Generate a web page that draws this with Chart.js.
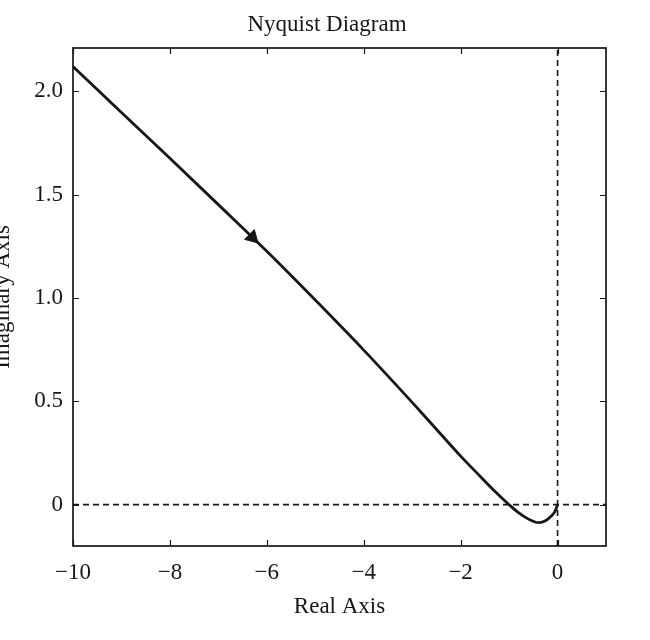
<!DOCTYPE html>
<html>
<head>
<meta charset="utf-8">
<script src="https://cdn.jsdelivr.net/npm/chart.js@4.4.1/dist/chart.umd.min.js"></script>
<style>
  html, body { margin: 0; padding: 0; background: #fff; overflow: hidden; width: 650px; height: 640px; }
  #wrap { position: absolute; left: -11px; top: 0; width: 676px; height: 640px; }
</style>
</head>
<body>
<div id="wrap"><canvas id="nyquist"></canvas></div>
<script>
// ========================
//    data
// ========================
const realPart = [-10, -9, -8, -7, -6, -5, -4, -3, -2.5, -2, -1.6, -1.3, -1.0,
                  -0.8, -0.6, -0.45, -0.38, -0.25, -0.13, -0.05, 0];
const imagPart = [2.12, 1.898, 1.676, 1.452, 1.226, 0.99, 0.748, 0.495, 0.365, 0.235, 0.138, 0.066, 0,
                  -0.04, -0.07, -0.085, -0.087, -0.078, -0.055, -0.031, 0];

// arrow on the curve
const arrowAt = { x: -6.3, y: 1.294 };

const xTicks = [-10, -8, -6, -4, -2, 0];
const yTicks = [0, 0.5, 1.0, 1.5, 2.0];
const xRange = [-10, 1];
const yRange = [-0.2, 2.21];

const curve = realPart.map((x, i) => ({ x: x, y: imagPart[i] }));

const serif = "'Liberation Serif', 'Times New Roman', serif";
const ink = '#161616';
const fsize = 23;

// box + inward ticks on all four sides (matlab style)
const frame = {
  id: 'frame',
  afterDraw(chart) {
    const { ctx, chartArea: a, scales } = chart;
    const len = 6;
    ctx.save();
    ctx.strokeStyle = ink;
    ctx.lineWidth = 1.2;
    ctx.beginPath();
    scales.x.ticks.forEach(t => {
      const px = Math.round(scales.x.getPixelForValue(t.value)) + 0.5;
      ctx.moveTo(px, a.bottom); ctx.lineTo(px, a.bottom - len);
      ctx.moveTo(px, a.top); ctx.lineTo(px, a.top + len);
    });
    scales.y.ticks.forEach(t => {
      const py = Math.round(scales.y.getPixelForValue(t.value)) + 0.5;
      ctx.moveTo(a.left, py); ctx.lineTo(a.left + len, py);
      ctx.moveTo(a.right, py); ctx.lineTo(a.right - len, py);
    });
    ctx.stroke();
    ctx.lineWidth = 1.7;
    ctx.strokeRect(a.left, a.top, a.right - a.left, a.bottom - a.top);
    ctx.restore();
  }
};

const fmt = v => {
  if (v === 0) return '0';
  if (v < 0) return '\u2212' + Math.abs(v);
  return String(v);
};

new Chart(document.getElementById('nyquist'), {
  type: 'scatter',
  data: {
    datasets: [
      {
        // dashed zero lines
        data: [{ x: 0, y: yRange[0] }, { x: 0, y: yRange[1] }],
        showLine: true, pointRadius: 0,
        borderColor: ink, borderWidth: 1.6, borderDash: [6, 4]
      },
      {
        data: [{ x: xRange[0], y: 0 }, { x: xRange[1], y: 0 }],
        showLine: true, pointRadius: 0,
        borderColor: ink, borderWidth: 1.6, borderDash: [6, 4]
      },
      {
        data: curve,
        showLine: true, pointRadius: 0,
        borderColor: ink, borderWidth: 2.8,
        cubicInterpolationMode: 'monotone'
      },
      {
        data: [arrowAt],
        pointStyle: 'triangle', pointRadius: 8, rotation: 135,
        backgroundColor: ink, borderColor: ink, borderWidth: 1
      }
    ]
  },
  options: {
    responsive: true,
    maintainAspectRatio: false,
    animation: false,
    layout: { padding: 0 },
    plugins: {
      legend: { display: false },
      tooltip: { enabled: false },
      title: {
        display: true,
        text: 'Nyquist Diagram',
        color: ink,
        font: { family: serif, size: fsize, weight: 'normal' },
        padding: { top: 11.2, bottom: 9.2 }
      }
    },
    scales: {
      x: {
        type: 'linear',
        min: xRange[0], max: xRange[1],
        afterBuildTicks: s => { s.ticks = xTicks.map(v => ({ value: v })); },
        afterFit: s => { s.height = 94; },
        grid: { display: false, drawTicks: false },
        border: { display: false },
        ticks: {
          color: ink, padding: 13, maxRotation: 0,
          font: { family: serif, size: fsize },
          callback: fmt
        },
        title: {
          display: true, text: 'Real Axis', color: ink,
          font: { family: serif, size: fsize },
          padding: { top: 0, bottom: 19.2 }
        }
      },
      y: {
        type: 'linear',
        min: yRange[0], max: yRange[1],
        afterBuildTicks: s => { s.ticks = yTicks.map(v => ({ value: v })); },
        afterFit: s => { s.width = 84; },
        grid: { display: false, drawTicks: false },
        border: { display: false },
        ticks: {
          color: ink, padding: 10,
          font: { family: serif, size: fsize },
          callback: v => (v === 0 ? '0' : v.toFixed(1))
        },
        title: {
          display: true, text: 'Imaginary Axis', color: ink,
          font: { family: serif, size: fsize },
          padding: { top: 0, bottom: 0 }
        }
      },
      // empty right axis, only keeps the margin on the right
      yRight: {
        position: 'right',
        afterFit: s => { s.width = 59; },
        grid: { display: false, drawTicks: false },
        border: { display: false },
        ticks: { display: false }
      }
    }
  },
  plugins: [frame]
});
</script>
</body>
</html>
